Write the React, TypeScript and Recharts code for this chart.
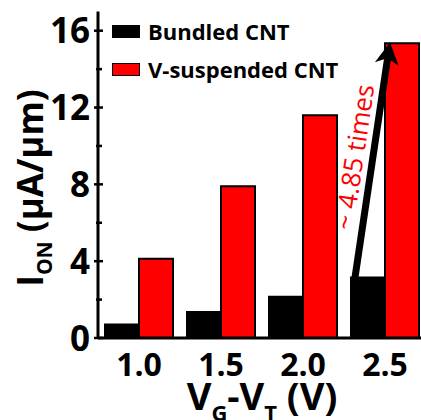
import React from "react";
import {
  BarChart,
  Bar,
  XAxis,
  YAxis,
  Legend,
  Rectangle,
} from "recharts";

const categories = ["1.0", "1.5", "2.0", "2.5"];
const bundledCnt = [0.7, 1.35, 2.15, 3.15];
const suspendedCnt = [4.13, 7.9, 11.6, 15.35];
const seriesNames = ["Bundled CNT", "V-suspended CNT"];
const seriesColors = ["#000000", "#ff0000"];
const yTicks = [0, 2, 4, 6, 8, 10, 12, 14, 16];
const annotationText = "~ 4.85 times";

const data = categories.map((c, i) => ({
  vg: c,
  bundled: bundledCnt[i],
  suspended: suspendedCnt[i],
}));

const FONT = "'Open Sans', sans-serif";

function YTick(props: any) {
  const { x, y, payload } = props;
  const major = payload.value % 4 === 0;
  return (
    <g>
      <line
        x1={major ? x - 4 : x - 2}
        x2={major ? x + 5 : x + 4}
        y1={y}
        y2={y}
        stroke="#000"
        strokeWidth={2.5}
      />
      {major && (
        <text
          x={x - 8}
          y={y}
          dy="0.36em"
          textAnchor="end"
          fontSize={35}
          fontWeight="bold"
          fontFamily={FONT}
          fill="#000"
        >
          {payload.value}
        </text>
      )}
    </g>
  );
}

function SuspendedShape(props: any) {
  const { x, y, width, height, index, payload, value } = props;
  const rect = <Rectangle {...props} />;
  if (index !== categories.length - 1) return rect;
  // find the black bar top using this bar's own scale
  const v = Array.isArray(value) ? value[1] - value[0] : value;
  const perUnit = height / v;
  const bottom = y + height;
  const sx = x - width + 4;
  const sy = bottom - payload.bundled * perUnit;
  const ex = x + 5;
  const ey = y - 1;
  const dx = ex - sx;
  const dy = ey - sy;
  const len = Math.sqrt(dx * dx + dy * dy);
  const ux = dx / len;
  const uy = dy / len;
  const px = -uy;
  const py = ux;
  const headLen = 22;
  const headHalf = 12;
  const notch = 16;
  const bx = ex - ux * headLen;
  const by = ey - uy * headLen;
  const nx = ex - ux * notch;
  const ny = ey - uy * notch;
  const head = [
    [ex, ey],
    [bx + px * headHalf, by + py * headHalf],
    [nx, ny],
    [bx - px * headHalf, by - py * headHalf],
  ]
    .map((p) => p.join(","))
    .join(" ");
  const angle = (Math.atan2(dy, dx) * 180) / Math.PI;
  const mx = (sx + ex) / 2;
  const my = (sy + ey) / 2;
  return (
    <g>
      {rect}
      <line x1={sx} y1={sy} x2={nx} y2={ny} stroke="#000" strokeWidth={7} />
      <polygon points={head} fill="#000" />
      <text
        transform={`translate(${mx},${my}) rotate(${angle})`}
        x={0}
        y={-9}
        textAnchor="middle"
        fontSize={26}
        fontFamily={FONT}
        fill="#ff0000"
      >
        {annotationText}
      </text>
    </g>
  );
}

function renderLegend() {
  return (
    <div style={{ fontFamily: FONT }}>
      {seriesNames.map((name, i) => (
        <div
          key={name}
          style={{ display: "flex", alignItems: "center", height: 38 }}
        >
          <div
            style={{
              width: 28,
              height: 13,
              background: seriesColors[i],
              border: "1.5px solid #000",
              boxSizing: "border-box",
              marginRight: 8,
            }}
          />
          <span
            style={{
              fontSize: 22,
              fontWeight: "bold",
              color: "#000",
              lineHeight: 1,
              whiteSpace: "nowrap",
            }}
          >
            {name}
          </span>
        </div>
      ))}
    </div>
  );
}

function YLabel(props: any) {
  const vb = props.viewBox;
  const cx = vb.x + 43;
  const cy = 188;
  return (
    <text
      transform={`translate(${cx},${cy}) rotate(-90)`}
      textAnchor="middle"
      fontFamily={FONT}
      fontWeight="bold"
      fontSize={35}
      fill="#000"
    >
      <tspan>I</tspan>
      <tspan fontSize={21} dy={9}>
        ON
      </tspan>
      <tspan dy={-9}> (μA/μm)</tspan>
    </text>
  );
}

function XLabel(props: any) {
  const vb = props.viewBox;
  const cx = vb.x + vb.width / 2;
  const cy = vb.y + 72;
  return (
    <text
      x={cx}
      y={cy}
      textAnchor="middle"
      fontFamily={FONT}
      fontWeight="bold"
      fontSize={38}
      fill="#000"
    >
      <tspan>V</tspan>
      <tspan fontSize={22} dy={11}>
        G
      </tspan>
      <tspan dy={-11}>-V</tspan>
      <tspan fontSize={22} dy={11}>
        T
      </tspan>
      <tspan dy={-11}> (V)</tspan>
    </text>
  );
}

export default function App() {
  return (
    <div
      style={{
        position: "fixed",
        left: 0,
        top: 0,
        width: 421,
        height: 420,
        overflow: "hidden",
        background: "#fff",
      }}
    >
      <BarChart
        width={440}
        height={420}
        data={data}
        margin={{ top: 11.5, right: 14, left: 0, bottom: 0 }}
        barGap={0}
        barSize={34}
      >
        <XAxis
          dataKey="vg"
          height={82}
          axisLine={{ stroke: "#000", strokeWidth: 3 }}
          tickLine={false}
          tickSize={0}
          tickMargin={15}
          tick={{
            fontSize: 32,
            fontWeight: "bold",
            fontFamily: FONT,
            fill: "#000",
          }}
          label={<XLabel />}
        />
        <XAxis
          xAxisId="top"
          dataKey="vg"
          orientation="top"
          height={0}
          axisLine={{ stroke: "#000", strokeWidth: 3 }}
          tick={false}
          tickLine={false}
        />
        <YAxis
          width={98}
          domain={[0, 17]}
          ticks={yTicks}
          interval={0}
          axisLine={{ stroke: "#000", strokeWidth: 3 }}
          tickLine={false}
          tickSize={0}
          tickMargin={0}
          tick={<YTick />}
          label={<YLabel />}
        />
        <Legend
          layout="vertical"
          align="center"
          verticalAlign="middle"
          wrapperStyle={{ top: 12, left: 112, width: "auto" }}
          content={renderLegend}
        />
        <Bar
          dataKey="bundled"
          name={seriesNames[0]}
          fill={seriesColors[0]}
          stroke="#000"
          strokeWidth={2}
          isAnimationActive={false}
        />
        <Bar
          dataKey="suspended"
          name={seriesNames[1]}
          fill={seriesColors[1]}
          stroke="#000"
          strokeWidth={2}
          isAnimationActive={false}
          shape={<SuspendedShape />}
        />
      </BarChart>
    </div>
  );
}
